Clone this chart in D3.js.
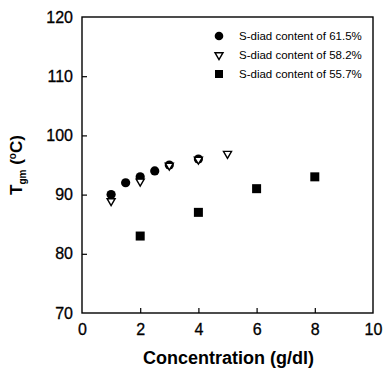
<!DOCTYPE html>
<html lang="en">
<head>
    <meta charset="UTF-8">
    <script src="https://cdn.jsdelivr.net/npm/d3@7"></script>
    <title>Tgm vs concentration</title>
    <style>
        body { margin: 0; background: #fff; }
        text { font-family: "Liberation Sans", Arial, sans-serif; fill: #000; }
    </style>
</head>
<body>
<script>
    // data
    var series = ["S-diad content of 61.5%", "S-diad content of 58.2%", "S-diad content of 55.7%"];
    var conc615 = [1, 1.5, 2, 2.5, 3, 4];
    var tgm615  = [90, 92, 93, 94, 95, 96];
    var conc582 = [1, 2, 3, 4, 5];
    var tgm582  = [89, 92.3, 95, 96, 97];
    var conc557 = [2, 4, 6, 8];
    var tgm557  = [83, 87, 91, 93];
    var xTicks = [0, 2, 4, 6, 8, 10];
    var yTicks = [70, 80, 90, 100, 110, 120];

    var W = 385, H = 372;
    var margin = {left: 82, right: 12, top: 17, bottom: 59};

    var svg = d3.select("body").append("svg")
        .attr("width", W)
        .attr("height", H);

    var x = d3.scaleLinear().domain([0, 10]).range([margin.left, W - margin.right]);
    var y = d3.scaleLinear().domain([70, 120]).range([H - margin.bottom, margin.top]);

    // frame
    svg.append("rect")
        .attr("x", x(0)).attr("y", y(120))
        .attr("width", x(10) - x(0)).attr("height", y(70) - y(120))
        .attr("fill", "none").attr("stroke", "#000").attr("stroke-width", 1.4);

    // axes, ticks pointing inward
    var xAxis = d3.axisBottom(x).tickValues(xTicks).tickSizeInner(-5).tickSizeOuter(0).tickPadding(11);
    var yAxis = d3.axisLeft(y).tickValues(yTicks).tickSizeInner(-5).tickSizeOuter(0).tickPadding(9);

    var gx = svg.append("g")
        .attr("transform", "translate(0," + y(70) + ")")
        .call(xAxis);
    var gy = svg.append("g")
        .attr("transform", "translate(" + x(0) + ",0)")
        .call(yAxis);

    [gx, gy].forEach(function(g) {
        g.select(".domain").remove();
        g.selectAll(".tick line").attr("stroke", "#000").attr("stroke-width", 1.2);
        g.selectAll(".tick text").style("font-size", "16px").attr("fill", "#000")
            .attr("stroke", "#000").attr("stroke-width", 0.3);
    });
    gx.selectAll(".tick line").filter(function(d){ return d === 0 || d === 10; }).remove();
    gy.selectAll(".tick line").filter(function(d){ return d === 70 || d === 120; }).remove();

    // axis titles
    svg.append("text")
        .attr("x", (x(0) + x(10)) / 2 + 1)
        .attr("y", 364)
        .attr("text-anchor", "middle")
        .style("font-size", "18px")
        .style("font-weight", "bold")
        .text("Concentration (g/dl)");

    var yl = svg.append("text")
        .attr("transform", "translate(22," + ((y(70) + y(120)) / 2) + ") rotate(-90)")
        .attr("text-anchor", "middle")
        .style("font-size", "17px")
        .style("font-weight", "bold");
    yl.append("tspan").text("T");
    yl.append("tspan").attr("dy", 4).style("font-size", "10px").text("gm");
    yl.append("tspan").attr("dy", -4).text(" (");
    yl.append("tspan").attr("dy", -6).style("font-size", "10px").text("o");
    yl.append("tspan").attr("dy", 6).text("C)");

    // points
    var tri = d3.symbol().type(d3.symbolTriangle).size(28);

    svg.append("g").selectAll("circle")
        .data(d3.zip(conc615, tgm615))
        .enter().append("circle")
        .attr("cx", function(d){ return x(d[0]); })
        .attr("cy", function(d){ return y(d[1]); })
        .attr("r", 4.6)
        .attr("fill", "#000");

    svg.append("g").selectAll("path")
        .data(d3.zip(conc582, tgm582))
        .enter().append("path")
        .attr("d", tri)
        .attr("transform", function(d){ return "translate(" + x(d[0]) + "," + (y(d[1]) + 0.5) + ") rotate(180)"; })
        .attr("fill", "#fff")
        .attr("stroke", "#000")
        .attr("stroke-width", 1.4);

    svg.append("g").selectAll("rect")
        .data(d3.zip(conc557, tgm557))
        .enter().append("rect")
        .attr("x", function(d){ return x(d[0]) - 4.5; })
        .attr("y", function(d){ return y(d[1]) - 4.5; })
        .attr("width", 9).attr("height", 9)
        .attr("fill", "#000");

    // legend
    var legY = [36, 55, 74];
    var leg = svg.append("g");
    leg.append("circle").attr("cx", 219).attr("cy", legY[0]).attr("r", 4.3).attr("fill", "#000");
    leg.append("path").attr("d", tri)
        .attr("transform", "translate(219," + legY[1] + ") rotate(180)")
        .attr("fill", "#fff").attr("stroke", "#000").attr("stroke-width", 1.4);
    leg.append("rect").attr("x", 215).attr("y", legY[2] - 4).attr("width", 8).attr("height", 8).attr("fill", "#000");
    leg.selectAll("text")
        .data(series)
        .enter().append("text")
        .attr("x", 239)
        .attr("y", function(d, i){ return legY[i] + 4; })
        .style("font-size", "11.5px")
        .text(function(d){ return d; });
</script>
</body>
</html>
